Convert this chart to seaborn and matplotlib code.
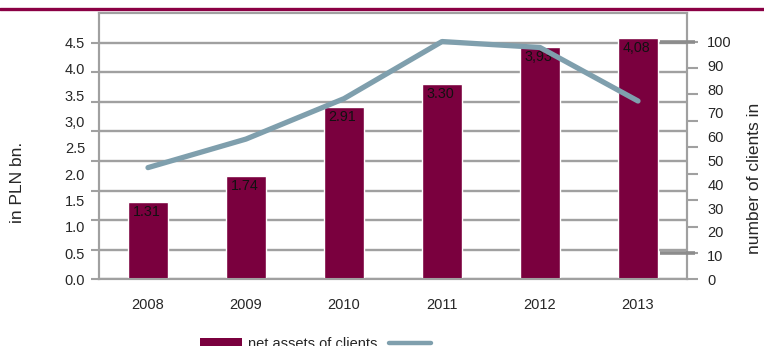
import numpy as np
import pandas as pd
import matplotlib
matplotlib.use("Agg")
import matplotlib.pyplot as plt
from matplotlib.lines import Line2D
from matplotlib.patches import Patch
import matplotlib.transforms as mtransforms
import seaborn as sns

# ---- data -------------------------------------------------------------
years = ["2008", "2009", "2010", "2011", "2012", "2013"]
net_assets = [1.31, 1.74, 2.91, 3.30, 3.93, 4.08]          # PLN bn
net_asset_labels = ["1.31", "1.74", "2.91", "3.30", "3,93", "4,08"]
clients = [47, 59, 76, 100, 97.5, 75]                        # number of clients

left_tick_labels = ["0.0", "0.5", "1.0", "1.5", "2.0", "2.5", "3,0", "3.5", "4.0", "4.5"]
right_tick_labels = ["0", "10", "20", "30", "40", "50", "60", "70", "80", "90", "100"]
legend_labels = ["net assets of clients", ""]

# ---- style ------------------------------------------------------------
sns.set_style("white")
plt.rcParams["font.family"] = ["Liberation Sans", "DejaVu Sans"]

BAR = "#7a003e"
LINE = "#7f9fad"
GREY = "#a0a0a0"
RULE = "#8a0044"
TICK_FS = 10.5

fig = plt.figure(figsize=(7.64, 3.46), dpi=100)
ax = fig.add_axes([99 / 764, 1 - 279.4 / 346, 588 / 764, 266.4 / 346])

df = pd.DataFrame({"year": years, "assets": net_assets,
                   "pos": np.arange(len(years)), "clients": clients})

sns.barplot(data=df, x="year", y="assets", color=BAR, saturation=1,
            width=0.4, ax=ax, zorder=3)

ax.set_xlim(-0.5, len(years) - 0.5)
ax.set_ylim(0, 4.5)

# value labels just inside the top of each bar
for p, v, lab in zip(df["pos"], net_assets, net_asset_labels):
    ax.annotate(lab, (p, v), xytext=(-1, -2), textcoords="offset points",
                ha="center", va="top", fontsize=10.3, color="#111111", zorder=5)

# left axis: gridlines every 0.5, labels spread evenly up to the top gridline
ax.yaxis.remove_overlapping_locs = False
ax.set_yticks(np.arange(0, 4.01, 0.5))
ax.set_yticklabels([])
ax.set_yticks(np.linspace(0, 4.0, len(left_tick_labels)), minor=True)
ax.set_yticklabels(left_tick_labels, minor=True)
ax.tick_params(axis="y", which="major", length=6, width=1.5, color=GREY, direction="out")
ax.tick_params(axis="y", which="minor", length=0, pad=10, labelsize=TICK_FS)
ax.yaxis.grid(True, which="major", color=GREY, lw=1.7, zorder=0)
ax.set_axisbelow(True)

# x axis: tick marks between categories, year labels centred
ax.xaxis.remove_overlapping_locs = False
ax.set_xticks(np.arange(-0.5, len(years), 1.0))
ax.set_xticklabels([])
ax.set_xticks(np.arange(len(years)), minor=True)
ax.set_xticklabels(years, minor=True)
ax.tick_params(axis="x", which="major", length=6, width=1.5, color=GREY, direction="out")
ax.tick_params(axis="x", which="minor", length=0, pad=13.5, labelsize=TICK_FS)
ax.set_xlabel("")

for side in ["left", "bottom", "top", "right"]:
    ax.spines[side].set_visible(True)
    ax.spines[side].set_color(GREY)
    ax.spines[side].set_linewidth(1.5)

ax.set_ylabel("in PLN bn.", fontsize=12.5)
ax.yaxis.set_label_coords(-0.126, 0.365)

# ---- clients line on the secondary axis -------------------------------
ax2 = ax.twinx()
sns.lineplot(data=df, x="pos", y="clients", color=LINE, lw=3.8, ax=ax2,
             solid_capstyle="round", zorder=4)
ax2.set_ylim(0, 112)
ax2.yaxis.remove_overlapping_locs = False
ax2.set_yticks(np.linspace(0, 100, 10))
ax2.set_yticklabels([])
ax2.set_yticks(np.arange(0, 101, 10), minor=True)
ax2.set_yticklabels(right_tick_labels, minor=True)
ax2.tick_params(axis="y", which="major", length=8, width=1.5, color=GREY, direction="out")
ax2.tick_params(axis="y", which="minor", length=0, pad=14.5, labelsize=TICK_FS)
ax2.set_xlabel("")
ax2.set_ylabel("number of clients in", fontsize=12.5)
ax2.yaxis.set_label_coords(1.1015, 0.381)
for side in ["left", "bottom", "top", "right"]:
    ax2.spines[side].set_color(GREY)
    ax2.spines[side].set_linewidth(1.5)

# heavier markers at the first and last right-hand ticks
trans = mtransforms.blended_transform_factory(ax2.transAxes, ax2.transData)
for yv in (np.linspace(0, 100, 10)[1], 100):
    ax2.plot([0.954, 1.0136], [yv, yv], transform=trans, color="#8c8c8c",
             lw=2.6, clip_on=False, zorder=6, solid_capstyle="butt")

# ---- page rule across the top ------------------------------------------
fig.add_artist(Line2D([0, 1], [1 - 9 / 346, 1 - 9 / 346], transform=fig.transFigure,
                      color=RULE, lw=2.4))

# ---- legend along the bottom edge ---------------------------------------
handles = [Patch(facecolor=BAR, edgecolor="none"),
           Line2D([], [], color=LINE, lw=3.2)]
fig.legend(handles, legend_labels, loc="center left",
           bbox_to_anchor=(200 / 764, 1 - 344.5 / 346), ncol=2, frameon=False,
           fontsize=10.5, handlelength=2.9, handletextpad=0.41,
           columnspacing=0.75, borderpad=0, borderaxespad=0)

fig.savefig("out.png", dpi=100)
